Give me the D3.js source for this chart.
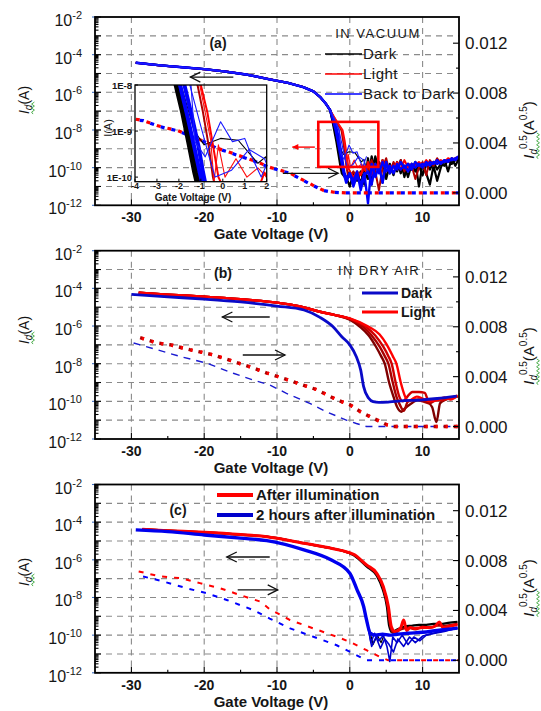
<!DOCTYPE html>
<html>
<head>
<meta charset="utf-8">
<script src="https://cdn.jsdelivr.net/npm/d3@7/dist/d3.min.js"></script>
<style>
html,body{margin:0;padding:0;background:#fff;}
svg{display:block;font-family:"Liberation Sans",Arial,sans-serif;}
</style>
</head>
<body>
<svg id="chart" width="541" height="711"></svg>
<script>
// ---------- axis tick values ----------
const gateTicks = [-30, -20, -10, 0, 10];
const gateMinorTicks = [-25, -15, -5, 5];
const currentLabelExps = [-2, -4, -6, -8, -10, -12];
const currentGridExps = [-3, -4, -5, -6, -7, -8, -9, -10, -11];
const rootTicks = [0, 0.004, 0.008, 0.012];
const rootTickLabels = ["0.000", "0.004", "0.008", "0.012"];
const rootMinorTicks = [0.002, 0.006, 0.010];
const insetGateTicks = [-4, -3, -2, -1, 0, 1, 2];
const insetCurrentExps = [-8, -9, -10];
const insetCurrentLabels = ["1E-8", "1E-9", "1E-10"];

// ---------- (a) in vacuum: transfer curves as [Vg (V), log10 Id (A)] ----------
const vacUpper = [[-29.4,-4.43],[-26,-4.57],[-23,-4.67],[-20,-4.77],[-17,-4.9],[-14,-5.07],[-11,-5.31],[-8.5,-5.5],[-6.4,-5.72],[-5,-5.95],[-4.1,-6.24],[-3.3,-6.6],[-2.7,-6.95]];
const vacDark1Tail = [[-2.4,-7.5],[-2.15,-8.0],[-1.85,-8.6],[-1.55,-9.3],[-1.3,-9.9],[-1.1,-10.3],[-0.5,-10.6],[0,-10.2],[0.5,-10.9],[1,-10.3],[1.5,-10.8],[2,-10.2]];
const vacDark2Tail = [[-2.35,-7.5],[-2.05,-8.0],[-1.75,-8.6],[-1.45,-9.3],[-1.2,-9.9],[-1.0,-10.3],[-0.5,-10.5],[0,-11.0],[0.5,-10.3],[1,-10.7],[1.5,-10.2],[2,-10.9]];
const vacDark3Tail = [[-2.3,-7.5],[-1.9,-8.0],[-1.3,-9.0],[-0.85,-9.3],[-0.1,-9.16],[0.7,-9.2],[1.2,-9.48],[1.6,-9.7],[1.95,-9.56],[2.4,-10.3]];
const vacLight1Tail = [[-2.0,-7.5],[-1.15,-8.0],[-0.9,-8.6],[-0.65,-9.3],[-0.45,-10.0],[-0.3,-10.3],[0,-10.5],[0.5,-10.2],[1,-10.6],[1.5,-10.3],[2,-10.1]];
const vacLight2Tail = [[-1.9,-7.5],[-1.0,-8.0],[-0.7,-8.6],[-0.45,-9.3],[-0.2,-10.0],[0,-10.2],[0.5,-10.5],[1,-10.2],[1.5,-10.4],[1.9,-9.9],[2.2,-10.2]];
const vacLight3Tail = [[-1.8,-7.5],[-1.05,-8.0],[-0.55,-9.2],[-0.4,-10.1],[-0.2,-9.3],[0.1,-10.0],[0.6,-9.6],[1.1,-10.0],[1.6,-9.8],[2.2,-10.1]];
const vacBack1Tail = [[-2.3,-7.5],[-1.95,-8.0],[-1.6,-8.7],[-1.3,-9.35],[-1.05,-9.9],[-0.85,-10.3],[-0.5,-10.8],[0,-10.3],[0.5,-11.0],[1,-10.4],[1.5,-10.9],[2,-10.3]];
const vacBack2Tail = [[-2.2,-7.5],[-1.75,-8.0],[-1.4,-8.7],[-1.1,-9.35],[-0.9,-9.9],[-0.75,-10.25],[-0.4,-10.6],[0,-10.3],[0.5,-10.7],[1,-10.2],[1.5,-11.2],[2,-10.4]];
const vacBack3Tail = [[-2.1,-7.5],[-1.5,-8.0],[-1.0,-8.9],[-0.6,-9.6],[-0.35,-10.0],[0.4,-9.85],[1.2,-9.4],[1.9,-9.6],[2.4,-10.2]];
const vacBack4Tail = [[-2.0,-7.5],[-1.45,-8.0],[-1.27,-9.23],[-0.8,-9.56],[-0.1,-8.8],[0.44,-9.23],[1.0,-9.16],[1.36,-9.6],[1.75,-10.0],[2.3,-9.4]];

// noise floor of the vacuum sweeps, log10 Id at each gate voltage
const vacFloorV = [2.5,3,3.5,4,4.5,5,5.5,6,6.5,7,7.5,8,8.5,9,9.5,10,10.5,11,11.5,12,12.5,13,13.5,14,14.5,15];
const vacDark1Floor = [-10.6,-9.4,-10.1,-9.7,-10.8,-9.7,-10.3,-9.9,-10.2,-9.6,-10.5,-9.8,-10.1,-9.7,-11.0,-9.8,-10.3,-10.9,-9.9,-10.7,-10.0,-9.6,-10.2,-9.5,-9.9,-9.5];
const vacDark2Floor = [-9.5,-10.9,-9.4,-10.2,-9.6,-10.6,-9.8,-10.4,-9.7,-10.3,-9.9,-10.5,-9.8,-10.2,-9.9,-10.4,-9.8,-10.1,-9.7,-10.1,-9.8,-9.9,-9.6,-9.8,-9.6,-9.5];
const vacLight1Floor = [-10.1,-9.6,-10.2,-11.2,-10.0,-9.5,-10.3,-9.7,-10.1,-9.6,-10.2,-9.8,-9.9,-10.6,-10.0,-9.7,-10.4,-9.6,-9.9,-9.5,-9.8,-9.6,-9.7,-9.5,-9.6,-9.4];
const vacLight2Floor = [-9.7,-10.4,-9.8,-10.1,-9.6,-10.2,-9.9,-10.0,-9.7,-10.1,-9.6,-10.0,-9.8,-9.9,-9.7,-9.9,-9.6,-9.8,-9.7,-9.7,-9.6,-9.7,-9.5,-9.6,-9.5,-9.4];
const vacBack1Floor = [-11.9,-9.8,-10.5,-9.9,-10.8,-9.7,-10.3,-9.9,-10.1,-9.7,-10.0,-9.8,-10.1,-9.7,-9.9,-9.8,-9.9,-9.7,-9.8,-9.6,-9.8,-9.6,-9.7,-9.5,-9.6,-9.4];
const vacBack2Floor = [-10.2,-10.9,-9.8,-10.3,-9.7,-10.2,-9.9,-10.3,-9.8,-10.1,-9.9,-10.2,-9.8,-10.0,-9.8,-10.0,-9.7,-9.9,-9.7,-9.8,-9.7,-9.7,-9.6,-9.6,-9.5,-9.4];

// square root of drain current, [Vg, Id^0.5 (A^0.5)]
const vacRootLight = [[-29.4,0.0059],[-28.4,0.0058],[-26.5,0.0054],[-25.1,0.00518],[-23.7,0.005],[-20,0.00412],[-18.2,0.00357],[-16.5,0.00325],[-12.6,0.00245],[-11,0.00205],[-9.6,0.00182],[-8.2,0.00158],[-6.4,0.00102],[-5.1,0.00062],[-3.7,0.00022],[-2.2,0.00005],[-0.5,0],[15,0]];
const vacRootBack = [[-29.4,0.00585],[-28.4,0.00579],[-26.5,0.00539],[-25.1,0.00515],[-23.7,0.00499],[-20,0.0041],[-18.2,0.00355],[-16.5,0.00323],[-12.6,0.00243],[-11,0.00203],[-9.6,0.0018],[-8.2,0.00156],[-6.4,0.001],[-5.1,0.0006],[-3.7,0.0002],[-2.3,0.00004],[-1,0],[15,0]];

// ---------- (b) in dry air ----------
const airDark = [[-30,-4.32],[-25,-4.45],[-20,-4.57],[-15,-4.72],[-10,-4.94],[-6.3,-5.15],[-4.1,-5.54],[-2.3,-6.04],[-1.1,-6.57],[0,-7.0],[0.9,-7.63],[1.5,-8.34],[1.9,-9.22],[2.6,-9.84],[3.2,-10.02],[4,-10.06],[5.5,-10.03],[7,-9.98],[9.6,-9.93],[12,-9.85],[14.7,-9.72]];
const airLightUpper = [[-29,-4.23],[-25,-4.33],[-20,-4.44],[-15,-4.58],[-10,-4.76],[-7,-4.95],[-4.1,-5.24],[-2,-5.42]];
const airLight1Tail = [[0,-5.66],[1.4,-6.04],[2.6,-6.5],[3.6,-7.1],[4.3,-7.6],[4.8,-8.0],[5.4,-9.0],[6.0,-9.75],[6.5,-10.3],[7.1,-10.55],[7.5,-10.4],[8.5,-10.1],[9.5,-9.9],[10.5,-10.0],[11.3,-10.3],[11.9,-11.1],[12.4,-10.1],[13.2,-9.9],[14,-9.8],[14.8,-9.75]];
const airLight2Tail = [[0,-5.63],[1.8,-6.04],[3.0,-6.5],[4.1,-7.1],[4.8,-7.6],[5.3,-8.0],[5.9,-9.0],[6.4,-9.75],[6.9,-10.2],[7.4,-10.5],[8,-10.0],[9,-9.9],[10,-10.0],[11,-10.1],[12,-9.9],[13,-9.9],[14,-9.8],[14.8,-9.75]];
const airLight3Tail = [[0,-5.61],[2.2,-6.04],[3.5,-6.5],[4.6,-7.1],[5.3,-7.6],[5.75,-8.0],[6.3,-9.0],[6.8,-9.75],[7.3,-10.0],[7.8,-9.8],[8.6,-9.5],[9.5,-9.5],[10.3,-9.55],[10.8,-9.95],[11.5,-9.9],[12.5,-9.95],[13.5,-9.85],[14.8,-9.7]];
const airLight4Tail = [[0,-5.59],[2.6,-6.04],[4.1,-6.45],[5.1,-7.0],[5.9,-7.6],[6.4,-8.0],[7.0,-9.0],[7.6,-9.75],[8.0,-10.0],[8.5,-9.9],[9.2,-9.75],[10,-9.85],[11,-10.0],[12,-9.95],[13,-9.8],[13.8,-9.9],[14.8,-9.7]];
const airRootLight = [[-28.8,0.00712],[-26.5,0.0067],[-24.7,0.00656],[-22,0.00616],[-18.75,0.00575],[-16,0.00522],[-13.25,0.00469],[-11.4,0.00429],[-10,0.00403],[-7.3,0.0035],[-4.55,0.00296],[-1.8,0.00215],[0,0.00175],[1.4,0.00121],[3.2,0.00067],[5.1,0.00014],[6,0],[15,0]];
const airRootDark = [[-29.7,0.0067],[-26.5,0.00616],[-23.3,0.00562],[-19.65,0.00508],[-16,0.00427],[-13.25,0.00373],[-11,0.00333],[-8.7,0.00266],[-5.5,0.00186],[-3.2,0.00118],[-0.4,0.0005],[0.9,0.00024],[2.3,0],[15,0]];

// ---------- (c) after illumination ----------
const afterUpper = [[-28.5,-4.38],[-25,-4.45],[-20,-4.54],[-15,-4.66],[-11.4,-4.77],[-6.3,-5.12],[-3,-5.35],[-1.2,-5.5]];
const after1Tail = [[0.6,-5.72],[2.3,-6.27],[3.7,-6.71],[4.6,-7.42],[5.3,-8.48],[5.7,-9.54],[6.2,-9.81],[7,-9.6],[7.4,-9.2],[7.8,-9.75],[8.3,-9.6],[9,-9.65],[10,-9.6],[11,-9.6],[11.8,-9.5],[12.3,-9.3],[12.8,-9.6],[14,-9.5],[14.8,-9.45]];
const after2Tail = [[0.6,-5.77],[2.3,-6.35],[3.7,-6.85],[4.5,-7.55],[5.1,-8.5],[5.4,-9.5],[5.8,-9.85],[6.5,-9.7],[7.5,-9.55],[8.5,-9.5],[9.5,-9.45],[10.5,-9.45],[11.5,-9.4],[12.5,-9.4],[13.5,-9.35],[14.8,-9.3]];
const after3Tail = [[0.6,-5.75],[2.3,-6.3],[3.7,-6.78],[4.6,-7.5],[5.2,-8.5],[5.55,-9.5],[6.0,-9.9],[7,-9.7],[8,-9.6],[9,-9.7],[10,-9.55],[11,-9.6],[12,-9.5],[13,-9.5],[14,-9.45],[14.8,-9.4]];
const twoHours = [[-29.4,-4.41],[-25,-4.5],[-20,-4.68],[-15,-4.85],[-11.4,-4.98],[-6.3,-5.47],[-2.6,-6.0],[0,-6.71],[1.0,-7.6],[1.9,-8.48],[2.3,-9.19],[2.8,-9.89],[3.5,-10.0],[4.5,-9.95],[5.5,-10.0],[6.5,-9.95],[8,-9.9],[10,-9.85],[12,-9.75],[14.8,-9.63]];
const twoHoursNoise1 = [[2.4,-9.3],[2.9,-10.4],[3.4,-9.9],[4.0,-10.3],[4.6,-10.0],[5.1,-10.6],[5.5,-11.4],[5.9,-10.1],[6.5,-10.4],[7.2,-10.0],[8.0,-10.5],[8.8,-10.1],[9.6,-10.3],[10.5,-10.0],[12,-9.85],[14.8,-9.65]];
const twoHoursNoise2 = [[2.5,-9.6],[3.0,-10.6],[3.6,-10.1],[4.2,-10.7],[4.8,-10.2],[5.4,-10.5],[6.0,-10.9],[6.6,-10.2],[7.4,-10.6],[8.2,-10.1],[9,-10.4],[10,-10.05],[11,-9.95],[13,-9.8],[14.8,-9.6]];
const twoHoursNoise3 = [[2.7,-9.7],[3.2,-10.5],[3.8,-10.0],[4.3,-10.4],[4.8,-9.9]];
const afterRoot = [[-29,0.00713],[-26.1,0.00673],[-23.3,0.00659],[-20.6,0.00619],[-17.8,0.00578],[-15.1,0.00524],[-12.3,0.00471],[-11,0.0041],[-8.2,0.00323],[-5,0.00256],[-1.8,0.00189],[0,0.00148],[2.3,0.00081],[4.15,0.00027],[5.3,0],[15,0]];
const twoHoursRoot = [[-28.4,0.00673],[-25.6,0.00632],[-22.4,0.00578],[-19.65,0.00538],[-16.9,0.00484],[-13.25,0.00403],[-11,0.00335],[-8.2,0.00256],[-5,0.00189],[-1.8,0.00121],[0.5,0.00054],[2.3,0],[15,0]];

// ---------- annotations in data units: [Vg start, Vg end, log10 Id] ----------
const sweepArrowsA = [[-16, -21.9, -5.19], [-9.2, -1.6, -10.3]];
const sweepArrowsB = [[-11, -17.5, -5.52], [-14.7, -8.9, -7.54]];
const sweepArrowsC = [[-11, -16.9, -5.85], [-15.4, -9.9, -7.6]];
const zoomBox = {v0: -4.33, v1: 3.92, e0: -7.57, e1: -9.96};
const zoomArrow = [-4.8, -7.9, -8.91];

// ---------- helpers ----------
const zip = (xs, ys) => xs.map((v, i) => [v, ys[i]]);
const svg = d3.select("#chart");
const defs = svg.append("defs");
const x = d3.scaleLinear().domain([-35, 15]).range([95, 459]);
const XL = x.range()[0], XR = x.range()[1];
const PANEL_TOPS = [17, 250.7, 484.5];
const PANEL_H = 188.3;

function makePanel(i) {
  const top = PANEL_TOPS[i], bottom = top + PANEL_H;
  const y = d3.scaleLog().domain([1e-12, 1e-2]).range([bottom, top]);
  const yr = d3.scaleLinear().domain([-0.001, 0.0141]).range([bottom, top]);
  const g = svg.append("g");
  const id = "plotclip" + i;
  defs.append("clipPath").attr("id", id).append("rect")
    .attr("x", XL).attr("y", top).attr("width", XR - XL).attr("height", PANEL_H);
  const grid = g.append("g").attr("stroke", "#8a8a8a").attr("stroke-width", 1.1).attr("stroke-dasharray", "6,5");
  gateTicks.forEach(v => grid.append("line").attr("x1", x(v)).attr("x2", x(v)).attr("y1", top).attr("y2", bottom));
  currentGridExps.forEach(e => grid.append("line").attr("x1", XL).attr("x2", XR).attr("y1", y(10 ** e)).attr("y2", y(10 ** e)));
  const plot = g.append("g").attr("clip-path", `url(#${id})`);
  const fl = d3.line().x(d => x(d[0])).y(d => y(Math.pow(10, d[1])));
  const sl = d3.line().x(d => x(d[0])).y(d => y(Math.pow(10, d[1]))).curve(d3.curveMonotoneX);
  const rl = d3.line().x(d => x(d[0])).y(d => yr(d[1]));
  return {top, bottom, y, yr, g, plot, fl, sl, rl};
}

function drawPath(parent, gen, data, color, width, dash) {
  const p = parent.append("path").attr("d", gen(data)).attr("fill", "none")
    .attr("stroke", color).attr("stroke-width", width)
    .attr("stroke-linejoin", "round");
  if (dash) p.attr("stroke-dasharray", dash);
  return p;
}

function arrow(p, a) {
  const x1 = x(a[0]), x2 = x(a[1]), yy = p.y(Math.pow(10, a[2]));
  const dir = x2 > x1 ? 1 : -1;
  const g = p.g.append("g").attr("stroke", "#111").attr("stroke-width", 1.3).attr("fill", "none");
  g.append("line").attr("x1", x1).attr("x2", x2).attr("y1", yy).attr("y2", yy);
  g.append("path").attr("d", `M${x2 - dir * 10},${yy - 5}L${x2},${yy}L${x2 - dir * 10},${yy + 5}`);
}

function squiggle(g, x0, x1, yy) {
  let d = `M${x0},${yy}`;
  let up = true;
  for (let xx = x0; xx < x1; xx += 2) { d += `L${xx + 2},${yy + (up ? -1.4 : 1.4)}`; up = !up; }
  g.append("path").attr("d", d).attr("fill", "none").attr("stroke", "#3aa53a").attr("stroke-width", 0.9);
}

function finishPanel(p, leftTitleY, rightTitleY) {
  const ax = p.g.append("g").attr("stroke", "#000").attr("stroke-width", 1.1);
  gateTicks.forEach(v => ax.append("line").attr("x1", x(v)).attr("x2", x(v)).attr("y1", p.bottom).attr("y2", p.bottom - 6));
  gateMinorTicks.forEach(v => ax.append("line").attr("x1", x(v)).attr("x2", x(v)).attr("y1", p.bottom).attr("y2", p.bottom - 3));
  for (let e = -12; e <= -2; e++) {
    const yy = p.y(10 ** e);
    ax.append("line").attr("x1", XL).attr("x2", XL + 6).attr("y1", yy).attr("y2", yy);
    if (e < -2) {
      for (let m = 2; m < 10; m++) {
        const ym = p.y(m * 10 ** e);
        ax.append("line").attr("x1", XL).attr("x2", XL + 3.5).attr("y1", ym).attr("y2", ym);
      }
    }
  }
  currentLabelExps.forEach(e => ax.append("line").attr("x1", XL - 3).attr("x2", XL).attr("y1", p.y(10 ** e)).attr("y2", p.y(10 ** e)).attr("stroke", "#3f6fc0"));
  rootTicks.forEach(v => ax.append("line").attr("x1", XR - 6).attr("x2", XR).attr("y1", p.yr(v)).attr("y2", p.yr(v)));
  rootMinorTicks.forEach(v => ax.append("line").attr("x1", XR - 3).attr("x2", XR).attr("y1", p.yr(v)).attr("y2", p.yr(v)));
  p.g.append("rect").attr("x", XL).attr("y", p.top).attr("width", XR - XL).attr("height", PANEL_H)
    .attr("fill", "none").attr("stroke", "#000").attr("stroke-width", 1.8);

  const txt = p.g.append("g").attr("fill", "#161616");
  gateTicks.forEach(v => txt.append("text").attr("x", x(v)).attr("y", p.bottom + 17).attr("text-anchor", "middle")
    .style("font-size", "14px").style("font-weight", "bold").text(v));
  currentLabelExps.forEach(e => {
    const t = txt.append("text").attr("x", XL - 13).attr("y", p.y(10 ** e) + 9).attr("text-anchor", "end").style("font-size", "16px");
    t.append("tspan").text("10");
    t.append("tspan").attr("dy", -7).style("font-size", "11px").text(e);
  });
  rootTicks.forEach((v, i) => txt.append("text").attr("x", XR + 6).attr("y", p.yr(v) + 6).style("font-size", "17px").text(rootTickLabels[i]));
  txt.append("text").attr("x", 271).attr("y", p.bottom + 34).attr("text-anchor", "middle")
    .style("font-size", "15px").style("font-weight", "bold").text("Gate Voltage (V)");

  // left axis title: Id(A)
  const lg = txt.append("g").attr("transform", `translate(24,${leftTitleY}) rotate(-90)`);
  const lt = lg.append("text").attr("x", 0).attr("y", 5).attr("text-anchor", "middle").style("font-size", "14px");
  lt.append("tspan").style("font-style", "italic").text("I");
  lt.append("tspan").attr("dy", 3).style("font-size", "10px").style("font-style", "italic").text("d");
  lt.append("tspan").attr("dy", -3).text("(A)");
  const lLen = lt.node().getComputedTextLength();
  const lSub = lt.node().getSubStringLength(0, 2);
  squiggle(lg, -lLen / 2, -lLen / 2 + lSub + 1, 9);

  // right axis title: Id^0.5(A^0.5)
  const rg = txt.append("g").attr("transform", `translate(529,${rightTitleY}) rotate(-90)`);
  const rt = rg.append("text").attr("x", 0).attr("y", 5).attr("text-anchor", "middle").style("font-size", "15px");
  rt.append("tspan").style("font-style", "italic").text("I");
  rt.append("tspan").attr("dy", 3).style("font-size", "10px").style("font-style", "italic").text("d");
  rt.append("tspan").attr("dy", -10).style("font-size", "10px").text("0.5");
  rt.append("tspan").attr("dy", 7).text("(A");
  rt.append("tspan").attr("dy", -7).style("font-size", "10px").text("0.5");
  rt.append("tspan").attr("dy", 7).text(")");
  const rLen = rt.node().getComputedTextLength();
  const rSub = rt.node().getSubStringLength(0, 5);
  squiggle(rg, -rLen / 2, -rLen / 2 + rSub + 1, 9);
}

// ================= panel (a) =================
const pa = makePanel(0);
const vacDark1 = vacUpper.concat(vacDark1Tail, zip(vacFloorV, vacDark1Floor));
const vacDark2 = vacUpper.concat(vacDark2Tail, zip(vacFloorV, vacDark2Floor));
const vacDark3 = vacUpper.concat(vacDark3Tail);
const vacLight1 = vacUpper.concat(vacLight1Tail, zip(vacFloorV, vacLight1Floor));
const vacLight2 = vacUpper.concat(vacLight2Tail, zip(vacFloorV, vacLight2Floor));
const vacLight3 = vacUpper.concat(vacLight3Tail);
const vacBack1 = vacUpper.concat(vacBack1Tail, zip(vacFloorV, vacBack1Floor));
const vacBack2 = vacUpper.concat(vacBack2Tail, zip(vacFloorV, vacBack2Floor));
const vacBack3 = vacUpper.concat(vacBack3Tail);
const vacBack4 = vacUpper.concat(vacBack4Tail);

const vacSeries = [
  [vacDark1, "#000", 2.2, 4], [vacDark2, "#000", 2.2, 4], [vacDark3, "#000", 1.1, 1.1],
  [vacLight1, "#b00000", 2, 2], [vacLight2, "#ff0000", 2, 2], [vacLight3, "#ff1010", 1.1, 1.1],
  [vacBack1, "#0000ff", 2.4, 4], [vacBack2, "#0000ff", 2.4, 4], [vacBack3, "#1a1aff", 1.1, 1.1], [vacBack4, "#1a1aff", 1.1, 1.1]
];

// inset: zoom on the subthreshold region
const ix = d3.scaleLinear().domain([-4, 2]).range([135, 266.7]);
const iy = d3.scaleLog().domain([Math.pow(10, -10.1), 1e-8]).range([181.7, 85]);
defs.append("clipPath").attr("id", "insetclip").append("rect")
  .attr("x", 135).attr("y", 85).attr("width", 131.7).attr("height", 96.7);
const inset = pa.g.append("g");
const insetPlot = inset.append("g").attr("clip-path", "url(#insetclip)");
const il = d3.line().x(d => ix(d[0])).y(d => iy(Math.pow(10, d[1])));
vacSeries.forEach(s => drawPath(insetPlot, il, s[0], s[1], s[3]));
inset.append("rect").attr("x", 135).attr("y", 85).attr("width", 131.7).attr("height", 96.7)
  .attr("fill", "none").attr("stroke", "#000").attr("stroke-width", 1.3);
const iax = inset.append("g").attr("stroke", "#000").attr("stroke-width", 1);
insetGateTicks.forEach(v => iax.append("line").attr("x1", ix(v)).attr("x2", ix(v)).attr("y1", 181.7).attr("y2", 178.7));
insetCurrentExps.forEach(e => iax.append("line").attr("x1", 135).attr("x2", 138).attr("y1", iy(10 ** e)).attr("y2", iy(10 ** e)));
const itx = inset.append("g").attr("fill", "#161616").style("font-weight", "bold");
insetGateTicks.forEach(v => itx.append("text").attr("x", ix(v)).attr("y", 188.5).attr("text-anchor", "middle").style("font-size", "9px").text(v));
insetCurrentExps.forEach((e, i) => itx.append("text").attr("x", 132).attr("y", iy(10 ** e) + 3.5).attr("text-anchor", "end").style("font-size", "9.5px").text(insetCurrentLabels[i]));
itx.append("text").attr("x", 193).attr("y", 200.5).attr("text-anchor", "middle").style("font-size", "10px").text("Gate Voltage (V)");
itx.append("text").attr("transform", "translate(112,128) rotate(-90)").attr("text-anchor", "middle").style("font-size", "11px").style("font-weight", "normal").text("I(A)");

vacSeries.forEach(s => drawPath(pa.plot, pa.fl, s[0], s[1], s[2]));
drawPath(pa.plot, pa.rl, vacRootLight, "#ff0000", 3.2, "4,7");
drawPath(pa.plot, pa.rl, vacRootBack, "#0000ff", 3.2, "4,7").attr("stroke-dashoffset", -4);

// zoom box and its pointer
pa.g.append("rect")
  .attr("x", x(zoomBox.v0)).attr("y", pa.y(Math.pow(10, zoomBox.e0)))
  .attr("width", x(zoomBox.v1) - x(zoomBox.v0))
  .attr("height", pa.y(Math.pow(10, zoomBox.e1)) - pa.y(Math.pow(10, zoomBox.e0)))
  .attr("fill", "none").attr("stroke", "#ff0000").attr("stroke-width", 2.6);
{
  const ax1 = x(zoomArrow[0]), ax2 = x(zoomArrow[1]), ay = pa.y(Math.pow(10, zoomArrow[2]));
  pa.g.append("line").attr("x1", ax1).attr("x2", ax2).attr("y1", ay).attr("y2", ay).attr("stroke", "#ff0000").attr("stroke-width", 1.4);
  pa.g.append("path").attr("d", `M${ax2},${ay}L${ax2 + 6},${ay - 3}L${ax2 + 6},${ay + 3}Z`).attr("fill", "#ff0000");
}
sweepArrowsA.forEach(a => arrow(pa, a));

// labels and legend
const ta = pa.g.append("g").attr("fill", "#161616");
ta.append("text").attr("x", 218).attr("y", 48).attr("text-anchor", "middle").style("font-size", "14px").style("font-weight", "bold").text("(a)");
ta.append("text").attr("x", 378).attr("y", 38).attr("text-anchor", "middle").style("font-size", "13px").style("letter-spacing", "1.5px").text("IN VACUUM");
const legA = [["Dark", "#000"], ["Light", "#ff0000"], ["Back to Dark", "#0000ff"]];
legA.forEach((d, i) => {
  const yy = 54 + i * 20;
  pa.g.append("line").attr("x1", 325).attr("x2", 362).attr("y1", yy).attr("y2", yy).attr("stroke", d[1]).attr("stroke-width", 1.5);
  ta.append("text").attr("x", 363).attr("y", yy + 5).style("font-size", "15px").style("letter-spacing", "0.5px").text(d[0]);
});
finishPanel(pa, 100, 130);

// ================= panel (b) =================
const pb = makePanel(1);
drawPath(pb.plot, pb.rl, airRootDark, "#1a1ad0", 1.4, "7,6");
drawPath(pb.plot, pb.rl, airRootLight, "#b00000", 3.4, "4,6");
drawPath(pb.plot, pb.rl, airRootLight, "#ff0000", 3.4, "2,8").attr("stroke-dashoffset", -2);
[[airLight1Tail, "#800000"], [airLight2Tail, "#a80000"], [airLight3Tail, "#d00000"], [airLight4Tail, "#ff0000"]]
  .forEach(s => drawPath(pb.plot, pb.sl, airLightUpper.concat(s[0]), s[1], 2.4));
drawPath(pb.plot, pb.sl, airDark, "#0a0ac8", 2.8);
sweepArrowsB.forEach(a => arrow(pb, a));
const tb = pb.g.append("g").attr("fill", "#161616");
tb.append("text").attr("x", 223).attr("y", 278).attr("text-anchor", "middle").style("font-size", "14px").style("font-weight", "bold").text("(b)");
tb.append("text").attr("x", 379).attr("y", 275).attr("text-anchor", "middle").style("font-size", "13px").style("letter-spacing", "1.4px").text("IN DRY AIR");
[["Dark", "#0a0ac8"], ["Light", "#ff0000"]].forEach((d, i) => {
  const yy = 293 + i * 19;
  pb.g.append("line").attr("x1", 362).attr("x2", 398).attr("y1", yy).attr("y2", yy).attr("stroke", d[1]).attr("stroke-width", 3);
  tb.append("text").attr("x", 401).attr("y", yy + 5).style("font-size", "14px").style("font-weight", "bold").text(d[0]);
});
finishPanel(pb, 330, 356);

// ================= panel (c) =================
const pc = makePanel(2);
drawPath(pc.plot, pc.rl, afterRoot, "#ff0000", 2, "5,7");
drawPath(pc.plot, pc.rl, twoHoursRoot, "#0000ff", 2, "5,7");
drawPath(pc.plot, pc.sl, afterUpper.concat(after2Tail), "#000", 2.2);
drawPath(pc.plot, pc.sl, afterUpper.concat(after3Tail), "#a00000", 2.2);
drawPath(pc.plot, pc.sl, afterUpper.concat(after1Tail), "#ff0000", 3);
drawPath(pc.plot, pc.fl, twoHoursNoise3, "#000", 1.2);
drawPath(pc.plot, pc.fl, twoHoursNoise1, "#0000cc", 1.6);
drawPath(pc.plot, pc.fl, twoHoursNoise2, "#0000cc", 1.6);
drawPath(pc.plot, pc.sl, twoHours, "#0000ee", 3.4);
sweepArrowsC.forEach(a => arrow(pc, a));
const tc = pc.g.append("g").attr("fill", "#161616");
tc.append("text").attr("x", 178).attr("y", 515).attr("text-anchor", "middle").style("font-size", "14px").style("font-weight", "bold").text("(c)");
[["After illumination", "#ff0000"], ["2 hours after illumination", "#0000cc"]].forEach((d, i) => {
  const yy = 495 + i * 20;
  pc.g.append("line").attr("x1", 217).attr("x2", 253).attr("y1", yy).attr("y2", yy).attr("stroke", d[1]).attr("stroke-width", 4);
  tc.append("text").attr("x", 256).attr("y", yy + 5).style("font-size", "15px").style("font-weight", "bold").text(d[0]);
});
finishPanel(pc, 572, 588);
</script>
</body>
</html>
